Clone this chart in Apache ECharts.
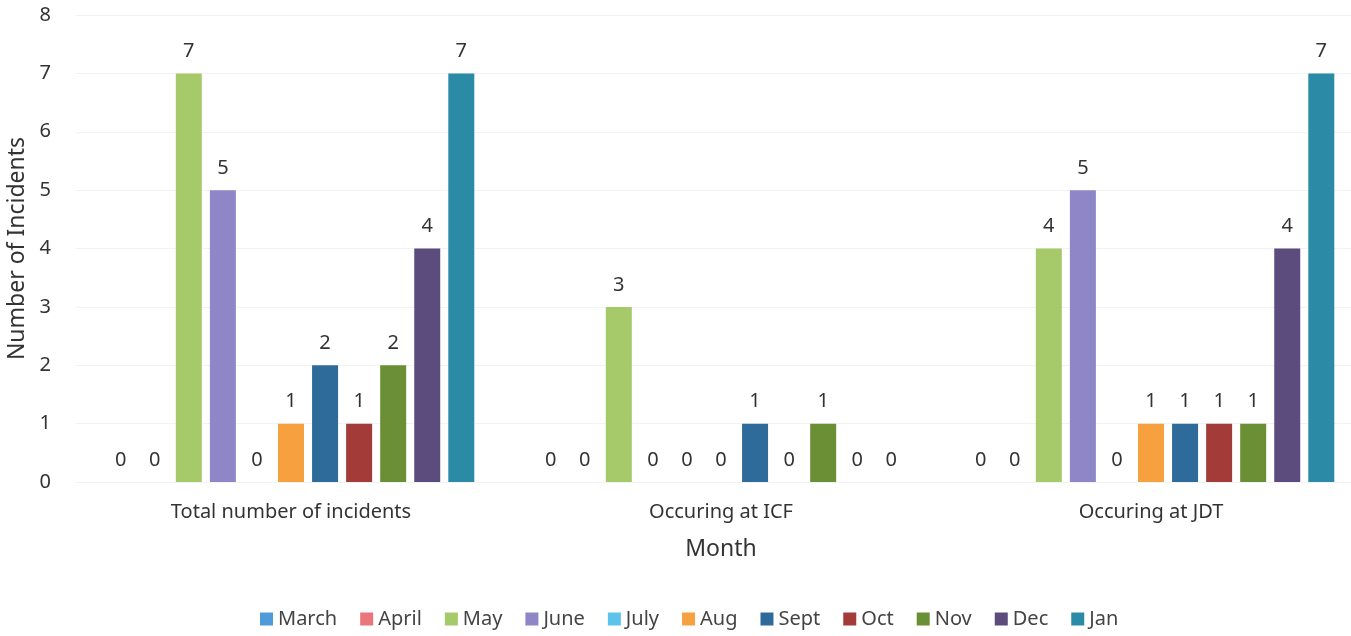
<!DOCTYPE html>
<html>
<head>
<meta charset="utf-8">
<script src="https://cdn.jsdelivr.net/npm/echarts@6/dist/echarts.min.js"></script>
<style>
  html, body { margin: 0; padding: 0; background: #fff; }
  #main { width: 1351px; height: 636px; }
</style>
</head>
<body>
<div id="main"></div>
<script type="text/javascript">
    // categories on the x axis
    var groups = ['Total number of incidents', 'Occuring at ICF', 'Occuring at JDT'];
    var months = ['March', 'April', 'May', 'June', 'July', 'Aug', 'Sept', 'Oct', 'Nov', 'Dec', 'Jan'];
    // values per month, one per group
    var March = [0, 0, 0];
    var April = [0, 0, 0];
    var May   = [7, 3, 4];
    var June  = [5, 0, 5];
    var July  = [0, 0, 0];
    var Aug   = [1, 0, 1];
    var Sept  = [2, 1, 1];
    var Oct   = [1, 0, 1];
    var Nov   = [2, 1, 1];
    var Dec   = [4, 0, 4];
    var Jan   = [7, 0, 7];
    var yTicks = [0, 1, 2, 3, 4, 5, 6, 7, 8];

    var values = [March, April, May, June, July, Aug, Sept, Oct, Nov, Dec, Jan];
    var colors = ['#4f9ad8', '#e8767a', '#a6c96a', '#8e86c6', '#5cc3ea', '#f7a040',
                  '#2f6b9a', '#a33b38', '#6a8f35', '#5c4b7d', '#2b8ba6'];
    var font = 'Noto Sans';

    var series = months.map(function (m, i) {
        return {
            name: m,
            type: 'bar',
            data: values[i],
            barWidth: 26,
            barGap: '31%',
            itemStyle: { color: colors[i] },
            label: {
                show: true,
                position: 'top',
                distance: 12,
                color: '#333',
                fontFamily: font,
                fontSize: 20
            }
        };
    });

    var myChart = echarts.init(document.getElementById('main'));
    myChart.setOption({
        animation: false,
        color: colors,
        grid: { left: 76, width: 1290, top: 15, bottom: 154, outerBoundsMode: 'none', containLabel: false },
        legend: {
            bottom: 2,
            left: 255,
            itemWidth: 13,
            itemHeight: 13,
            itemGap: 23,
            icon: 'rect',
            textStyle: { fontFamily: font, fontSize: 20, color: '#444' },
            data: months
        },
        xAxis: {
            type: 'category',
            data: groups,
            name: 'Month',
            nameLocation: 'middle',
            nameGap: 56,
            nameTextStyle: { fontFamily: font, fontSize: 23, color: '#333' },
            axisLine: { show: false },
            axisTick: { show: false },
            axisLabel: { fontFamily: font, fontSize: 20, color: '#333', margin: 20 }
        },
        yAxis: {
            type: 'value',
            min: yTicks[0],
            max: yTicks[yTicks.length - 1],
            interval: 1,
            name: 'Number of Incidents',
            nameLocation: 'middle',
            nameGap: 44,
            nameTextStyle: { fontFamily: font, fontSize: 23, color: '#333' },
            axisLine: { show: false },
            axisTick: { show: false },
            axisLabel: { fontFamily: font, fontSize: 20, color: '#333', margin: 25 },
            splitLine: { lineStyle: { color: '#f2f2f2' } }
        },
        series: series
    });
</script>
</body>
</html>
